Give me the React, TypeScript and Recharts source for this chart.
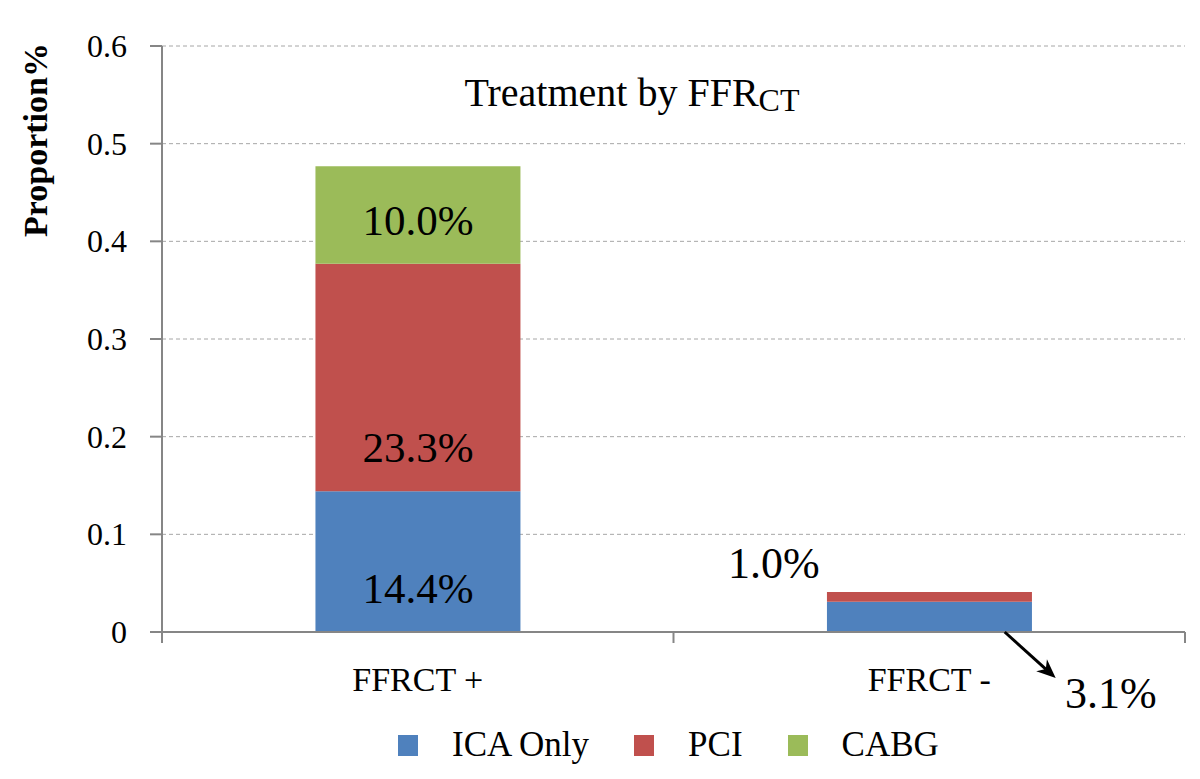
import React from 'react';
import { BarChart, Bar, XAxis, YAxis, CartesianGrid, Legend, LabelList } from 'recharts';

const categories = ['FFRCT +', 'FFRCT -'];
const icaOnly = [0.144, 0.031];
const pci = [0.233, 0.01];
const cabg = [0.1, 0];
const yTicks = [0, 0.1, 0.2, 0.3, 0.4, 0.5, 0.6];
const seriesNames = ['ICA Only', 'PCI', 'CABG'];
const seriesColors = ['#4F81BD', '#C0504D', '#9BBB59'];

const data = categories.map((c, i) => ({ category: c, ica: icaOnly[i], pci: pci[i], cabg: cabg[i] }));

const FONT = 'Liberation Serif';
const AXIS = '#868686';

const pct = (v: number) => (v * 100).toFixed(1) + '%';

function makeLabel(series: string) {
  return (props: any) => {
    const { x, y, width, height, value, index } = props;
    if (!value) return null;
    const common = { fontFamily: FONT, fill: '#000', textAnchor: 'middle' as const };
    if (index === 0) {
      return (
        <text x={x + width / 2} y={y + height - 29} fontSize={43} {...common}>
          {pct(value)}
        </text>
      );
    }
    if (series === 'pci') {
      return (
        <text x={x - 53} y={y - 14} fontSize={44} {...common}>
          {pct(value)}
        </text>
      );
    }
    if (series === 'ica') {
      const sx = x + width * 0.867;
      const sy = y + height;
      const ex = sx + 51;
      const ey = sy + 46;
      const dx = ex - sx;
      const dy = ey - sy;
      const len = Math.sqrt(dx * dx + dy * dy);
      const ux = dx / len;
      const uy = dy / len;
      const L = 19;
      const W = 8;
      const bx = ex - L * ux;
      const by = ey - L * uy;
      const nx = -uy;
      const ny = ux;
      const notchX = ex - L * 0.7 * ux;
      const notchY = ey - L * 0.7 * uy;
      const head = `M${ex},${ey} L${bx + W * nx},${by + W * ny} L${notchX},${notchY} L${bx - W * nx},${by - W * ny} Z`;
      return (
        <g>
          <line x1={sx} y1={sy} x2={notchX} y2={notchY} stroke="#000" strokeWidth={3} />
          <path d={head} fill="#000" />
          <text x={x + 284} y={sy + 76} fontSize={44} {...common}>
            {pct(value)}
          </text>
        </g>
      );
    }
    return null;
  };
}

const CategoryTick = (props: any) => {
  const { x, y, payload, index, width, visibleTicksCount } = props;
  const bw = width / visibleTicksCount;
  const left = x - bw / 2;
  const right = x + bw / 2;
  return (
    <g>
      <line x1={left} y1={y} x2={left} y2={y + 11} stroke={AXIS} strokeWidth={2} />
      {index === visibleTicksCount - 1 && (
        <line x1={right} y1={y} x2={right} y2={y + 11} stroke={AXIS} strokeWidth={2} />
      )}
      <text x={x} y={y + 59} textAnchor="middle" fontFamily={FONT} fontSize={34} fill="#000">
        {payload.value}
      </text>
    </g>
  );
};

const YTick = (props: any) => {
  const { x, y, payload } = props;
  return (
    <text x={x} y={y} dy="0.34em" textAnchor="end" fontFamily={FONT} fontSize={32} fill="#000">
      {String(payload.value)}
    </text>
  );
};

const YLabel = (props: any) => {
  const vb = props.viewBox;
  const cx = vb.x + 47;
  const cy = vb.y + 94;
  return (
    <text
      x={cx}
      y={cy}
      transform={`rotate(-90 ${cx} ${cy})`}
      textAnchor="middle"
      fontFamily={FONT}
      fontWeight="bold"
      fontSize={34}
      fill="#000"
    >
      Proportion%
    </text>
  );
};

const LegendContent = (props: any) => {
  const payload = [...(props.payload || [])].sort(
    (a: any, b: any) => seriesNames.indexOf(a.value) - seriesNames.indexOf(b.value)
  );
  return (
    <div style={{ display: 'flex', alignItems: 'center', height: 40, paddingLeft: 398, fontFamily: FONT, fontSize: 35, color: '#000' }}>
      {payload.map((entry: any, i: number) => (
        <div key={i} style={{ display: 'flex', alignItems: 'center', marginRight: 45 }}>
          <div style={{ width: 20, height: 21, background: entry.color }} />
          <span style={{ marginLeft: 34, lineHeight: '40px', whiteSpace: 'nowrap' }}>{entry.value}</span>
        </div>
      ))}
    </div>
  );
};

export default function App() {
  return (
    <div style={{ position: 'absolute', left: 0, top: 0, width: 1200, height: 779, background: '#fff', fontFamily: FONT }}>
      <BarChart
        width={1200}
        height={779}
        data={data}
        margin={{ top: 46, right: 15, left: 0, bottom: 14 }}
        barCategoryGap="30%"
        style={{ fontFamily: FONT }}
      >
        <CartesianGrid vertical={false} stroke="#a6a6a6" strokeDasharray="4 3" />
        <XAxis
          dataKey="category"
          height={93}
          axisLine={{ stroke: AXIS, strokeWidth: 2 }}
          tickLine={false}
          tickSize={0}
          tickMargin={0}
          tick={<CategoryTick />}
          interval={0}
        />
        <YAxis
          width={162}
          domain={[0, 0.6]}
          ticks={yTicks}
          axisLine={{ stroke: AXIS, strokeWidth: 2 }}
          tickLine={{ stroke: AXIS, strokeWidth: 2 }}
          tickSize={12}
          tickMargin={23}
          tick={<YTick />}
          label={YLabel}
        />
        <Legend verticalAlign="bottom" height={40} content={<LegendContent />} />
        <Bar dataKey="ica" name={seriesNames[0]} stackId="a" fill={seriesColors[0]} isAnimationActive={false}>
          <LabelList dataKey="ica" content={makeLabel('ica')} />
        </Bar>
        <Bar dataKey="pci" name={seriesNames[1]} stackId="a" fill={seriesColors[1]} isAnimationActive={false}>
          <LabelList dataKey="pci" content={makeLabel('pci')} />
        </Bar>
        <Bar dataKey="cabg" name={seriesNames[2]} stackId="a" fill={seriesColors[2]} isAnimationActive={false}>
          <LabelList dataKey="cabg" content={makeLabel('cabg')} />
        </Bar>
      </BarChart>
      <div
        style={{
          position: 'absolute',
          left: 632,
          top: 73,
          transform: 'translateX(-50%)',
          fontFamily: FONT,
          fontSize: 40,
          lineHeight: '40px',
          whiteSpace: 'nowrap',
          color: '#000',
        }}
      >
        Treatment by FFR
        <span style={{ fontSize: '0.8em', position: 'relative', top: '0.15em', lineHeight: 0 }}>CT</span>
      </div>
    </div>
  );
}
